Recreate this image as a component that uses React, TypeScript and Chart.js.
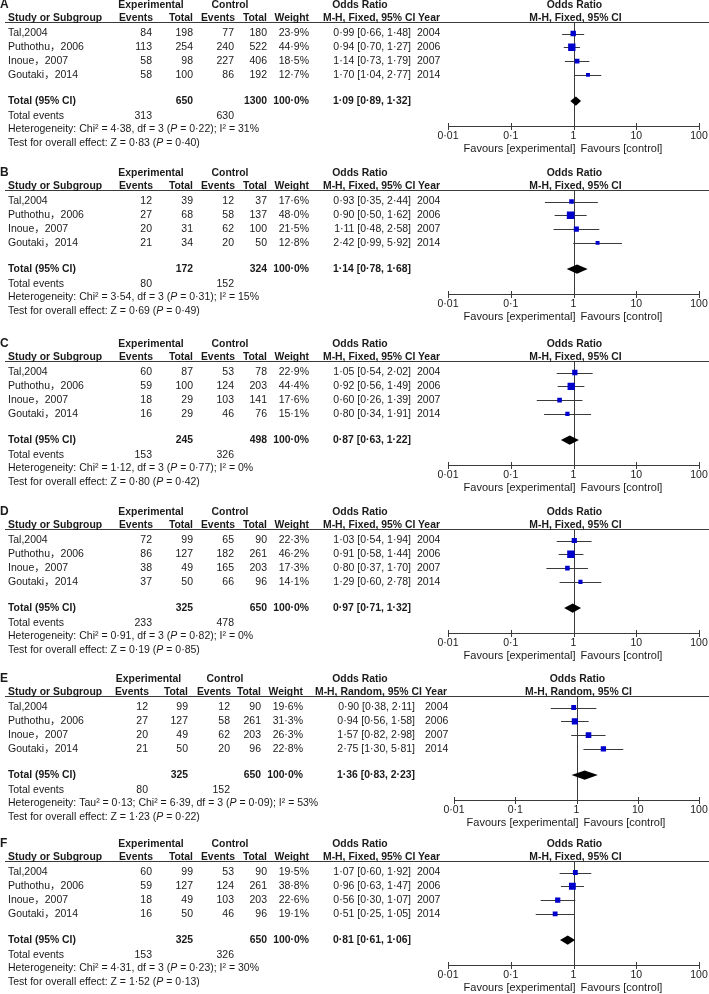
import React, { useEffect, useRef } from 'react';
import { Chart, registerables } from 'chart.js';
Chart.register(...registerables);

// ---------------- data ----------------
const PANEL_LETTERS = ['A', 'B', 'C', 'D', 'E', 'F'];
const STUDIES = ['Tal,2004', 'Puthothu，2006', 'Inoue，2007', 'Goutaki，2014'];
const YEARS = ['2004', '2006', '2007', '2014'];
const METHODS = ['Fixed', 'Fixed', 'Fixed', 'Fixed', 'Random', 'Fixed'];
const EXP_EVENTS = [[84, 113, 58, 58], [12, 27, 20, 21], [60, 59, 18, 16], [72, 86, 38, 37], [12, 27, 20, 21], [60, 59, 18, 16]];
const EXP_TOTALS = [[198, 254, 98, 100], [39, 68, 31, 34], [87, 100, 29, 29], [99, 127, 49, 50], [99, 127, 49, 50], [99, 127, 49, 50]];
const CTRL_EVENTS = [[77, 240, 227, 86], [12, 58, 62, 20], [53, 124, 103, 46], [65, 182, 165, 66], [12, 58, 62, 20], [53, 124, 103, 46]];
const CTRL_TOTALS = [[180, 522, 406, 192], [37, 137, 100, 50], [78, 203, 141, 76], [90, 261, 203, 96], [90, 261, 203, 96], [90, 261, 203, 96]];
const WEIGHTS = [[23.9, 44.9, 18.5, 12.7], [17.6, 48.0, 21.5, 12.8], [22.9, 44.4, 17.6, 15.1], [22.3, 46.2, 17.3, 14.1], [19.6, 31.3, 26.3, 22.8], [19.5, 38.8, 22.6, 19.1]];
const OR_EST = [[0.99, 0.94, 1.14, 1.70], [0.93, 0.90, 1.11, 2.42], [1.05, 0.92, 0.60, 0.80], [1.03, 0.91, 0.80, 1.29], [0.90, 0.94, 1.57, 2.75], [1.07, 0.96, 0.56, 0.51]];
const OR_LO = [[0.66, 0.70, 0.73, 1.04], [0.35, 0.50, 0.48, 0.99], [0.54, 0.56, 0.26, 0.34], [0.54, 0.58, 0.37, 0.60], [0.38, 0.56, 0.82, 1.30], [0.60, 0.63, 0.30, 0.25]];
const OR_HI = [[1.48, 1.27, 1.79, 2.77], [2.44, 1.62, 2.58, 5.92], [2.02, 1.49, 1.39, 1.91], [1.94, 1.44, 1.70, 2.78], [2.11, 1.58, 2.98, 5.81], [1.92, 1.47, 1.07, 1.05]];
const TOTAL_EXP_N = [650, 172, 245, 325, 325, 325];
const TOTAL_CTRL_N = [1300, 324, 498, 650, 650, 650];
const TOTAL_EXP_EVENTS = [313, 80, 153, 233, 80, 153];
const TOTAL_CTRL_EVENTS = [630, 152, 326, 478, 152, 326];
const POOLED_OR = [1.09, 1.14, 0.87, 0.97, 1.36, 0.81];
const POOLED_LO = [0.89, 0.78, 0.63, 0.71, 0.83, 0.61];
const POOLED_HI = [1.32, 1.68, 1.22, 1.32, 2.23, 1.06];
const TAU2: (number | null)[] = [null, null, null, null, 0.13, null];
const CHI2 = [4.38, 3.54, 1.12, 0.91, 6.39, 4.31];
const DF = [3, 3, 3, 3, 3, 3];
const HET_P = [0.22, 0.31, 0.77, 0.82, 0.09, 0.23];
const I2 = [31, 15, 0, 0, 53, 30];
const Z_VAL = [0.83, 0.69, 0.80, 0.19, 1.23, 1.52];
const Z_P = [0.40, 0.49, 0.42, 0.85, 0.22, 0.13];
const AXIS_TICKS = [0.01, 0.1, 1, 10, 100];
const AXIS_TICK_LABELS = ['0·01', '0·1', '1', '10', '100'];

// ---------------- layout / style ----------------
const PANEL_TOPS = [0, 168, 339, 507, 674, 839];
const PANEL_HEIGHTS = [160, 160, 160, 160, 160, 155];
const OFF = 6;
const W = 709;
const ROW0 = 33.5 + OFF;
const ROW_H = 13.8;
const COLS_FIXED = { expEv: 152, expTot: 193, ctlEv: 234, ctlTot: 267, weight: 309, or: 411, year: 417, expHdr: 151, ctlHdr: 230, orHdr: 360, methodHdr: 323, yearHdr: 418, plotLeft: 448 };
const COLS_RANDOM = { expEv: 148, expTot: 188, ctlEv: 230, ctlTot: 261, weight: 303, or: 415, year: 425, expHdr: 148.5, ctlHdr: 225, orHdr: 360, methodHdr: 315, yearHdr: 425, plotLeft: 454 };
const PLOT_RIGHT = 699;
const FONT = '"Liberation Sans", Arial, Helvetica, "Noto Sans CJK SC", sans-serif';
const TXT = '#1a1a1a';
const LINE = '#3a3a3a';
const BLUE = '#0000cc';
const FS = 10.5;
const FS_BOLD = 10.4;

const fmt = (v: number, d: number) => v.toFixed(d).replace('.', '·');

function makePlugin(p: number) {
  const cols = METHODS[p] === 'Random' ? COLS_RANDOM : COLS_FIXED;
  const txt = (ctx: CanvasRenderingContext2D, s: string, x: number, y: number, align: CanvasTextAlign, bold = false, size?: number) => {
    const sz = size ?? (bold ? FS_BOLD : FS);
    ctx.font = `${bold ? 'bold ' : ''}${sz}px ${FONT}`;
    ctx.textAlign = align;
    ctx.textBaseline = 'middle';
    ctx.fillStyle = TXT;
    ctx.fillText(s, x, y);
  };
  const runs = (ctx: CanvasRenderingContext2D, parts: [string, boolean][], x: number, y: number) => {
    let cx = x;
    ctx.textAlign = 'left';
    ctx.textBaseline = 'middle';
    ctx.fillStyle = TXT;
    for (const [s, it] of parts) {
      ctx.font = `${it ? 'italic ' : ''}${FS}px ${FONT}`;
      ctx.fillText(s, cx, y);
      cx += ctx.measureText(s).width;
    }
  };
  const hline = (ctx: CanvasRenderingContext2D, x1: number, x2: number, y: number) => {
    ctx.beginPath();
    ctx.moveTo(x1, Math.round(y) + 0.5);
    ctx.lineTo(x2, Math.round(y) + 0.5);
    ctx.stroke();
  };
  return {
    id: 'forest' + p,
    beforeDatasetsDraw(chart: any) {
      const ctx: CanvasRenderingContext2D = chart.ctx;
      const xs = chart.scales.x;
      const ys = chart.scales.y;
      ctx.save();
      ctx.strokeStyle = LINE;
      ctx.lineWidth = 1;
      // header rule
      hline(ctx, 5, W, ys.getPixelForValue(-0.8));
      // line of no effect
      const x1 = Math.round(xs.getPixelForValue(1)) + 0.5;
      ctx.beginPath();
      ctx.moveTo(x1, ys.getPixelForValue(-0.8));
      ctx.lineTo(x1, ys.getPixelForValue(6.7));
      ctx.stroke();
      // CI whiskers
      OR_LO[p].forEach((lo, i) => {
        hline(ctx, xs.getPixelForValue(lo), xs.getPixelForValue(OR_HI[p][i]), ys.getPixelForValue(i));
      });
      // axis
      const ay = Math.round(ys.getPixelForValue(6.7)) + 0.5;
      hline(ctx, xs.getPixelForValue(AXIS_TICKS[0]), xs.getPixelForValue(AXIS_TICKS[AXIS_TICKS.length - 1]), ay - 0.5);
      AXIS_TICKS.forEach((t) => {
        const tx = Math.round(xs.getPixelForValue(t)) + 0.5;
        ctx.beginPath();
        ctx.moveTo(tx, ay - 3.5);
        ctx.lineTo(tx, ay + 3.5);
        ctx.stroke();
      });
      ctx.restore();
    },
    afterDatasetsDraw(chart: any) {
      const ctx: CanvasRenderingContext2D = chart.ctx;
      const xs = chart.scales.x;
      const ys = chart.scales.y;
      ctx.save();
      // pooled diamond
      const dy = ys.getPixelForValue(4.9);
      ctx.fillStyle = '#000';
      ctx.beginPath();
      ctx.moveTo(xs.getPixelForValue(POOLED_LO[p]), dy);
      ctx.lineTo(xs.getPixelForValue(POOLED_OR[p]), dy - 4.6);
      ctx.lineTo(xs.getPixelForValue(POOLED_HI[p]), dy);
      ctx.lineTo(xs.getPixelForValue(POOLED_OR[p]), dy + 4.6);
      ctx.closePath();
      ctx.fill();

      const h1 = ys.getPixelForValue(-2.07);
      const h2 = ys.getPixelForValue(-1.12);
      ctx.font = `bold 12px ${FONT}`;
      ctx.textAlign = 'left';
      ctx.textBaseline = 'alphabetic';
      ctx.fillStyle = TXT;
      ctx.fillText(PANEL_LETTERS[p], 0, h1 + 3.4);
      txt(ctx, 'Experimental', cols.expHdr, h1, 'center', true);
      txt(ctx, 'Control', cols.ctlHdr, h1, 'center', true);
      txt(ctx, 'Odds Ratio', cols.orHdr, h1, 'center', true);
      const xOne = xs.getPixelForValue(1);
      txt(ctx, 'Odds Ratio', xOne + 1, h1, 'center', true);
      txt(ctx, 'Study or Subgroup', 8, h2, 'left', true);
      txt(ctx, 'Events', cols.expEv + 1, h2, 'right', true);
      txt(ctx, 'Total', cols.expTot, h2, 'right', true);
      txt(ctx, 'Events', cols.ctlEv + 1, h2, 'right', true);
      txt(ctx, 'Total', cols.ctlTot, h2, 'right', true);
      txt(ctx, 'Weight', cols.weight, h2, 'right', true);
      const method = `M-H, ${METHODS[p]}, 95% CI`;
      txt(ctx, method, cols.methodHdr, h2, 'left', true);
      txt(ctx, 'Year', cols.yearHdr, h2, 'left', true);
      txt(ctx, method, xOne + 2, h2, 'center', true);

      STUDIES.forEach((s, i) => {
        const y = ys.getPixelForValue(i);
        txt(ctx, s, 8, y, 'left');
        txt(ctx, String(EXP_EVENTS[p][i]), cols.expEv, y, 'right');
        txt(ctx, String(EXP_TOTALS[p][i]), cols.expTot, y, 'right');
        txt(ctx, String(CTRL_EVENTS[p][i]), cols.ctlEv, y, 'right');
        txt(ctx, String(CTRL_TOTALS[p][i]), cols.ctlTot, y, 'right');
        txt(ctx, fmt(WEIGHTS[p][i], 1) + '%', cols.weight, y, 'right');
        txt(ctx, `${fmt(OR_EST[p][i], 2)} [${fmt(OR_LO[p][i], 2)}, ${fmt(OR_HI[p][i], 2)}]`, cols.or, y, 'right');
        txt(ctx, YEARS[i], cols.year, y, 'left');
      });

      txt(ctx, 'Total (95% CI)', 8, dy, 'left', true);
      txt(ctx, String(TOTAL_EXP_N[p]), cols.expTot, dy, 'right', true);
      txt(ctx, String(TOTAL_CTRL_N[p]), cols.ctlTot, dy, 'right', true);
      txt(ctx, '100·0%', cols.weight, dy, 'right', true);
      txt(ctx, `${fmt(POOLED_OR[p], 2)} [${fmt(POOLED_LO[p], 2)}, ${fmt(POOLED_HI[p], 2)}]`, cols.or, dy, 'right', true);

      const te = ys.getPixelForValue(6);
      txt(ctx, 'Total events', 8, te, 'left');
      txt(ctx, String(TOTAL_EXP_EVENTS[p]), cols.expEv, te, 'right');
      txt(ctx, String(TOTAL_CTRL_EVENTS[p]), cols.ctlEv, te, 'right');

      const het = ys.getPixelForValue(6.96);
      const tau = TAU2[p];
      runs(ctx, [
        [`Heterogeneity: ${tau !== null ? `Tau² = ${fmt(tau, 2)}; ` : ''}Chi² = ${fmt(CHI2[p], 2)}, df = ${DF[p]} (`, false],
        ['P', true],
        [` = ${fmt(HET_P[p], 2)}); I² = ${I2[p]}%`, false],
      ], 8, het);
      const tst = ys.getPixelForValue(7.97);
      runs(ctx, [
        [`Test for overall effect: Z = ${fmt(Z_VAL[p], 2)} (`, false],
        ['P', true],
        [` = ${fmt(Z_P[p], 2)})`, false],
      ], 8, tst);

      const tl = ys.getPixelForValue(7.47);
      AXIS_TICKS.forEach((t, i) => txt(ctx, AXIS_TICK_LABELS[i], xs.getPixelForValue(t), tl, 'center'));
      const fv = ys.getPixelForValue(8.37);
      txt(ctx, 'Favours [experimental]', xOne + 2, fv, 'right', false, 11);
      txt(ctx, 'Favours [control]', xOne + 7, fv, 'left', false, 11);
      ctx.restore();
    },
  };
}

function Panel({ p }: { p: number }) {
  const ref = useRef<HTMLCanvasElement | null>(null);
  const H = PANEL_HEIGHTS[p] + OFF;
  useEffect(() => {
    const canvas = ref.current!;
    const cols = METHODS[p] === 'Random' ? COLS_RANDOM : COLS_FIXED;
    const top = ROW0 - ROW_H;
    const bottom = ROW0 + 7 * ROW_H;
    const chart = new Chart(canvas, {
      type: 'scatter',
      data: {
        datasets: [
          {
            data: OR_EST[p].map((v, i) => ({ x: v, y: i })),
            pointStyle: 'rect',
            pointRadius: WEIGHTS[p].map((w) => (1.1 * Math.sqrt(w)) / (2 * Math.SQRT1_2)),
            pointBorderWidth: 0,
            backgroundColor: BLUE,
            borderColor: BLUE,
          },
        ],
      },
      options: {
        responsive: false,
        animation: false,
        events: [],
        layout: { padding: { left: cols.plotLeft, right: W - PLOT_RIGHT, top, bottom: H - bottom } },
        scales: {
          x: { type: 'logarithmic', min: 0.01, max: 100, display: false },
          y: { type: 'linear', min: -1, max: 7, reverse: true, display: false },
        },
        plugins: { legend: { display: false }, tooltip: { enabled: false } },
      },
      plugins: [makePlugin(p)],
    } as any);
    return () => chart.destroy();
  }, [p]);
  return (
    <canvas
      ref={ref}
      width={W}
      height={H}
      style={{ position: 'absolute', left: 0, top: PANEL_TOPS[p] - OFF, width: W, height: H }}
    />
  );
}

export default function App() {
  return (
    <div style={{ position: 'fixed', left: 0, top: 0, width: W, height: 994, background: '#fff', overflow: 'hidden' }}>
      {PANEL_LETTERS.map((_, p) => (
        <Panel key={p} p={p} />
      ))}
    </div>
  );
}
